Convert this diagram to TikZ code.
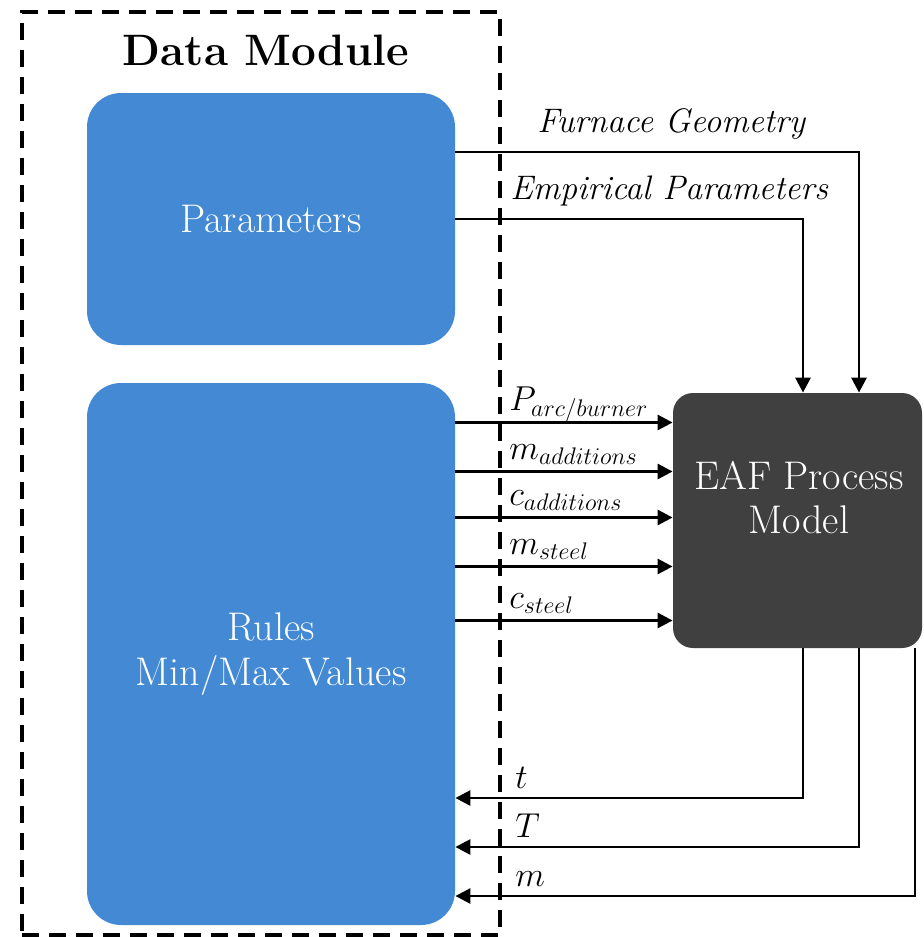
\documentclass[tikz,border=0pt]{standalone}
\usepackage{tikz}
\usetikzlibrary{calc, positioning, arrows.meta, shapes}
\usepackage{amsmath}
\usepackage{amssymb}
\definecolor{modblue}{RGB}{67,137,211}
\definecolor{procgray}{RGB}{64,64,64}

\begin{document}
\begin{tikzpicture}[x=0.5pt, y=-0.5pt,
  blk/.style={fill=modblue, rounded corners=17pt, minimum width=184pt, text=white, align=center, font=\fontsize{20}{22.5}\selectfont},
  sig/.style={-{Triangle[length=7.5pt, width=7.5pt]}, line width=1.4pt},
  sigl/.style={anchor=base west, inner sep=0pt, font=\fontsize{17}{19}\selectfont}]
  \useasboundingbox (0,0) rectangle (924,937);

  \node[draw, line width=2pt, dash pattern=on 8.5pt off 5pt, minimum width=239pt, minimum height=461.5pt] (frame) at (261,473.5) {};
  \node[font=\bfseries\fontsize{22}{26}\selectfont] (title) at (266,50) {Data Module};

  \node[blk, minimum height=126pt] (params) at (271,219) {Parameters};
  \node[blk, minimum height=271pt] (rules) at (271,654) {Rules\\Min/Max Values};
  \node[fill=procgray, rounded corners=10pt, minimum width=124.5pt, minimum height=127.5pt] (eaf) at (797.5,520.5) {};
  \node[text=white, align=center, font=\fontsize{20}{22}\selectfont] (eaftext) at (799,498) {EAF Process\\Model};

  % parameters into the model
  \draw[sig] ($(params.east)+(0,-67)$) coordinate (fg) -| ($(eaf.north)+(61.5,0)$);
  \draw[sig] (params.east) coordinate (ep) -| ($(eaf.north)+(5.5,0)$);
  \node[sigl] (fglab) at ($(frame.east |- fg)+(35,-20)$) {\textit{Furnace Geometry}};
  \node[sigl] (eplab) at ($(frame.east |- ep)+(8,-20)$) {\textit{Empirical Parameters}};

  % rules into the model
  \foreach \dy/\lab [count=\i] in {-98/{P_{arc/burner}}, -49/{m_{additions}}, -3/{c_{additions}}, 46/{m_{steel}}, 100/{c_{steel}}} {
    \coordinate (in\i) at ($(eaf.west)+(0,\dy)$);
    \draw[sig] (rules.east |- in\i) -- (in\i);
    \node[sigl, font=\fontsize{18.5}{20}\selectfont] (inlab\i) at ($(frame.east |- in\i)+(7,-12)$) {$\lab$};
  }

  % model back to rules
  \foreach \dx/\dy/\lab [count=\i] in {5.5/144/t, 61.5/193/T, 117.5/242/m} {
    \coordinate (out\i) at ($(eaf.south)+(\dx,0)$);
    \coordinate (back\i) at ($(rules.east)+(0,\dy)$);
    \draw[sig] (out\i) |- (back\i);
    \node[sigl] (outlab\i) at ($(frame.east |- back\i)+(13,-10)$) {$\lab$};
  }
\end{tikzpicture}
\end{document}
